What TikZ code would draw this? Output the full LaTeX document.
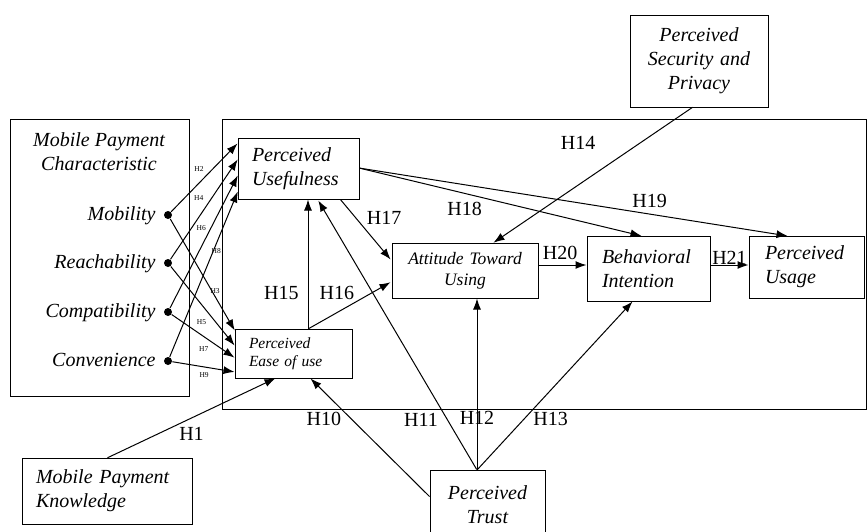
\documentclass[tikz,border=0pt]{standalone}
\usepackage{fontspec}
\setmainfont{Liberation Serif}
\usetikzlibrary{arrows.meta}
\newcommand{\boxfont}{\fontsize{20}{24}\selectfont\itshape}
\newcommand{\midfont}{\fontsize{17.5}{21}\selectfont\itshape}
\newcommand{\smallfont}{\fontsize{15.5}{18}\selectfont\itshape}
\newcommand{\hfont}{\fontsize{20}{20}\selectfont}
\newcommand{\tfont}{\fontsize{7.5}{7.5}\selectfont}
\newcommand{\drawbox}{\node[draw, rectangle, line width=1pt, inner ysep=0pt, font=\boxfont]}
\newcommand{\drawtext}{\node[font=\boxfont, inner sep=0pt]}
\newcommand{\drawdot}{\node[fill, circle, inner sep=0pt, minimum size=8pt]}
\newcommand{\drawdummy}{\node[minimum size=0, inner sep=0]}

\begin{document}
\begin{tikzpicture}[x=1pt, y=-1pt, line width=1pt, >={Latex[length=11pt, width=8pt]},
  hlab/.style={font=\hfont, inner sep=1pt}, tlab/.style={font=\tfont, inner sep=0.5pt}]
%mobile payment acceptance model
\useasboundingbox (0,0) rectangle (867,531);
\clip (0,0) rectangle (867,531);

\draw[line width=1pt] (222,119) rectangle (866,409);

\drawbox[minimum width=179pt, minimum height=277pt] (mpc) at (99.5,257.5) {};
\drawtext[align=center] (mpcTitle) at (99,152) {Mobile Payment\\Characteristic};
\drawtext[anchor=base east] (mob) at (156,220) {Mobility};
\drawtext[anchor=base east] (rea) at (156,268) {Reachability};
\drawtext[anchor=base east] (com) at (156,317) {Compatibility};
\drawtext[anchor=base east] (con) at (156,366) {Convenience};
\drawdot (m1) at (168,215) {};
\drawdot (m2) at (168,263) {};
\drawdot (m3) at (168,312) {};
\drawdot (m4) at (168,361) {};

\drawbox[align=left, text width=93pt, inner xsep=14pt, minimum height=61pt] (pu) at (298.5,168.5) {Perceived\\Usefulness};
\drawbox[align=left, text width=89pt, inner xsep=14pt, minimum height=49pt, font=\smallfont] (peou) at (293.5,353.5) {Perceived\\Ease of use};
\drawbox[align=center, text width=134pt, inner xsep=6pt, minimum height=55pt, font=\midfont] (atu) at (465,270.5) {Attitude Toward\\Using};
\drawbox[align=left, text width=93pt, inner xsep=15pt, minimum height=65pt] (bi) at (648.5,268.5) {Behavioral\\Intention};
\drawbox[align=left, text width=83pt, inner xsep=16pt, minimum height=62pt] (us) at (806.5,267) {Perceived\\Usage};
\drawbox[align=center, text width=122pt, inner xsep=8pt, minimum height=92pt] (psp) at (699,61) {Perceived\\Security and\\Privacy};
\drawbox[align=left, text width=142pt, inner xsep=14pt, minimum height=66pt] (mpk) at (107,491) {Mobile Payment\\Knowledge};
\drawbox[align=center, text width=99pt, inner xsep=8pt, minimum height=70pt] (pt) at (487.5,505) {Perceived\\Trust};

\drawdummy (puIn1) at (238,143) {};
\drawdummy (puIn2) at (238,159) {};
\drawdummy (puIn3) at (238,175) {};
\drawdummy (puIn4) at (238,191) {};
\drawdummy (peIn1) at (235,331) {};
\drawdummy (peIn2) at (235,346) {};
\drawdummy (peIn3) at (235,358) {};
\drawdummy (peIn4) at (235,372) {};
\drawdummy (peTop) at (308,329) {};
\drawdummy (peBot1) at (276,378) {};
\drawdummy (peBot2) at (310,378) {};
\drawdummy (puBot) at (308,199) {};
\drawdummy (puBot2) at (318,200) {};
\drawdummy (puCorner) at (340,199) {};
\drawdummy (puRight) at (359,168) {};
\drawdummy (atuIn1) at (391,260) {};
\drawdummy (atuIn2) at (391,282) {};
\drawdummy (atuTop) at (493,243) {};
\drawdummy (atuRight) at (538,265) {};
\drawdummy (atuBot) at (477,298) {};
\drawdummy (biLeft) at (587,265) {};
\drawdummy (biTop) at (642,236) {};
\drawdummy (biRight) at (710,265) {};
\drawdummy (biBot) at (633,301) {};
\drawdummy (usTop) at (788,236) {};
\drawdummy (usLeft) at (749,265) {};
\drawdummy (pspBot) at (693,107) {};
\drawdummy (mpkTop) at (107,458) {};
\drawdummy (ptTop) at (477,470) {};
\drawdummy (ptLeft) at (430,497) {};

\draw[->] (m1) to node[tlab, pos=0.42, above=11pt] {H2} (puIn1);
\draw[->] (m2) to node[tlab, pos=0.42, above=16pt] {H4} (puIn2);
\draw[->] (m3) to node[tlab, pos=0.46, above=15pt] {H6} (puIn3);
\draw[->] (m4) to node[tlab, pos=0.64, xshift=3pt] {H8} (puIn4);
\draw[->] (m1) to node[tlab, pos=0.65, xshift=3pt] {H3} (peIn1);
\draw[->] (m2) to node[tlab, pos=0.48, below=14pt] {H5} (peIn2);
\draw[->] (m3) to node[tlab, pos=0.51, below=9pt] {H7} (peIn3);
\draw[->] (m4) to node[tlab, pos=0.51, below=5pt] {H9} (peIn4);

\draw[->] (mpkTop) to node[hlab, pos=0.5, below=8pt] {H1} (peBot1);
\draw[->] (ptLeft) to node[hlab, pos=0.655, left=9pt] {H10} (peBot2);
\draw[->] (ptTop) to node[hlab, pos=0.185, left=8pt] {H11} (puBot2);
\draw[->] (ptTop) to node[hlab, pos=0.3] {H12} (atuBot);
\draw[->] (ptTop) to node[hlab, pos=0.3, right=8pt] {H13} (biBot);
\draw[->] (pspBot) to node[hlab, pos=0.265, left=43pt] {H14} (atuTop);
\draw[->] (peTop) to node[hlab, pos=0.277, left=8pt] {H15} (puBot);
\draw[->] (peTop) to node[hlab, pos=0.345, above=12pt] {H16} (atuIn2);
\draw[->] (puCorner) to node[hlab, pos=0.3, right=10pt] {H17} (atuIn1);
\draw[->] (puRight) to node[hlab, pos=0.373, below=7pt] {H18} (biTop);
\draw[->] (puRight) to node[hlab, pos=0.678, above=5pt] {H19} (usTop);
\draw[->] (atuRight) to node[hlab, pos=0.45, above=4pt] {H20} (biLeft);
\draw[->] (biRight) to node[hlab, pos=0.5, above=-1pt] {H21} (usLeft);
\end{tikzpicture}
\end{document}
